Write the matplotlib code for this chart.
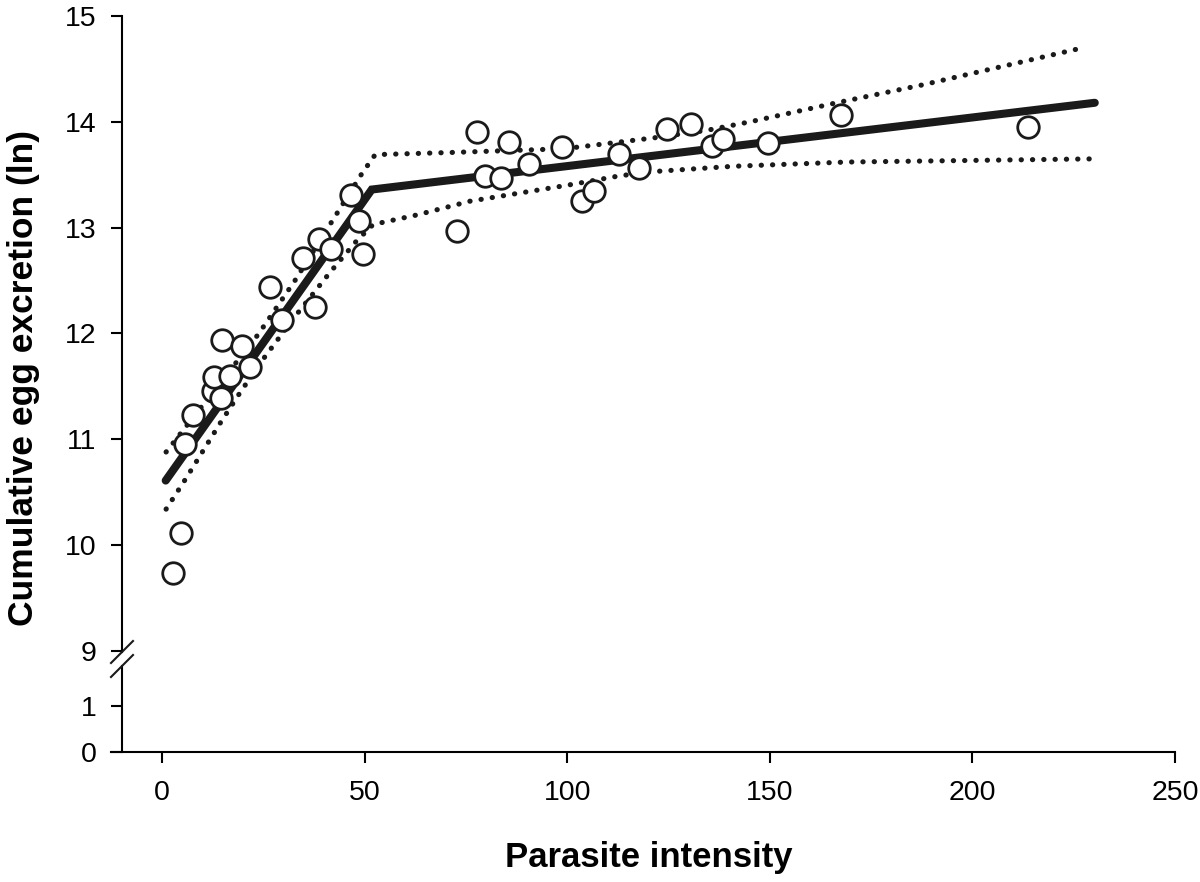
import matplotlib
matplotlib.use("Agg")
import matplotlib.pyplot as plt
from matplotlib.lines import Line2D

plt.rcParams['font.family'] = ['Liberation Sans', 'DejaVu Sans']

# ---- data ----
intensity = [2.7, 4.7, 5.7, 7.7, 12.6, 12.8, 14.8, 14.6, 16.8, 19.7, 21.7, 26.7,
             29.5, 34.7, 37.8, 38.7, 41.7, 46.6, 48.6, 49.5, 72.7, 77.8, 79.7,
             83.6, 85.6, 90.6, 98.8, 103.7, 106.7, 112.7, 117.6, 124.7, 130.6,
             135.7, 138.5, 149.6, 167.5, 213.6]
eggs = [9.74, 10.11, 10.96, 11.23, 11.46, 11.59, 11.94, 11.39, 11.60, 11.88,
        11.68, 12.44, 12.13, 12.71, 12.25, 12.89, 12.80, 13.31, 13.06, 12.75,
        12.97, 13.90, 13.49, 13.47, 13.81, 13.60, 13.76, 13.25, 13.35, 13.70,
        13.56, 13.93, 13.98, 13.77, 13.84, 13.80, 14.06, 13.95]

fit_x = [0.9, 51.75, 230.2]
fit_y = [10.61, 13.36, 14.18]

upper_x = [1.0, 23.8, 32.8, 49.3, 52.6, 71.1, 95.0, 102.4, 121.7, 134.5, 145.1,
           166.5, 187.8, 227.3]
upper_y = [10.88, 11.995, 12.50, 13.51, 13.69, 13.71, 13.74, 13.76, 13.85, 13.92,
           14.00, 14.18, 14.35, 14.70]

lower_x = [1.0, 5.9, 14.3, 19.4, 25.0, 32.8, 41.3, 47.9, 52.1, 62.9, 76.0, 99.9,
           113.0, 121.3, 141.0, 169.0, 229.8]
lower_y = [10.34, 10.63, 11.15, 11.45, 11.76, 12.16, 12.57, 12.87, 13.03, 13.12,
           13.25, 13.40, 13.49, 13.53, 13.58, 13.62, 13.65]

upper_ticks = [9, 10, 11, 12, 13, 14, 15]
lower_ticks = [0, 1]
x_ticks = [0, 50, 100, 150, 200, 250]

W, H = 1200, 882
fig = plt.figure(figsize=(W / 100, H / 100), dpi=100)

left_px, right_px = 111, 1175
ax_top = fig.add_axes([left_px / W, 1 - 652 / H, (right_px - left_px) / W, 636 / H])
ax_bot = fig.add_axes([left_px / W, 1 - 752 / H, (right_px - left_px) / W, 86 / H])

XLIM = (-12.6, 250)
for ax in (ax_top, ax_bot):
    ax.set_xlim(*XLIM)
    ax.spines['top'].set_visible(False)
    ax.spines['right'].set_visible(False)
    ax.spines['left'].set_position(('data', -10))
    for s in ax.spines.values():
        s.set_linewidth(1.5)
    ax.tick_params(direction='out', length=8, width=1.5, labelsize=20.5, pad=10)
    ax.patch.set_alpha(0)

ax_top.set_ylim(8.99, 15)
ax_top.spines['bottom'].set_visible(False)
ax_top.set_xticks([])
ax_top.set_yticks(upper_ticks)

ax_bot.set_ylim(0, 1.87)
ax_bot.set_yticks(lower_ticks)
ax_bot.set_xticks(x_ticks)
ax_bot.tick_params(axis='x', pad=12)

dot_style = dict(color='#1a1a1a', lw=3.7, linestyle=(0, (0.05, 2.15)),
                 dash_capstyle='round', solid_capstyle='round')
ax_top.plot(upper_x, upper_y, **dot_style)
ax_top.plot(lower_x, lower_y, **dot_style)
ax_top.plot(fit_x, fit_y, color='#1a1a1a', lw=5.8, solid_capstyle='round',
            solid_joinstyle='miter')
ax_top.plot(intensity, eggs, linestyle='none', marker='o', ms=15.5,
            mfc='white', mec='#1a1a1a', mew=2.0, clip_on=False, zorder=5)

# axis break marks (figure pixel coordinates)
for (x0, y0, x1, y1) in [(111, 663, 133, 641), (111, 677, 133, 655)]:
    fig.add_artist(Line2D([x0 / W, x1 / W], [1 - y0 / H, 1 - y1 / H],
                          transform=fig.transFigure, color='#1a1a1a', lw=1.5))

fig.text(649 / W, 1 - 857 / H, 'Parasite intensity', ha='center', va='center',
         fontsize=25, fontweight='bold')
fig.text(24 / W, 1 - 378 / H, 'Cumulative egg excretion (ln)', ha='center',
         va='center', rotation=90, fontsize=25.5, fontweight='bold')

fig.savefig('out.png', dpi=100)
